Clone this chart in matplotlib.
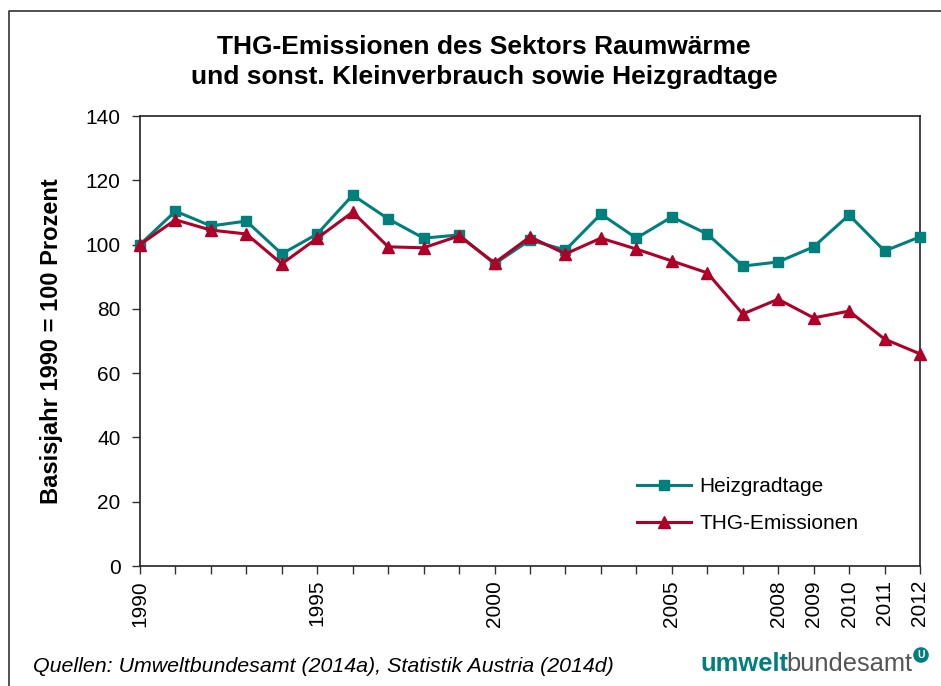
import numpy as np
import matplotlib.pyplot as plt
from matplotlib.lines import Line2D

plt.rcParams['font.family'] = ['Liberation Sans', 'DejaVu Sans']

# Daten (Basisjahr 1990 = 100)
jahre = list(range(1990, 2013))
heizgradtage = [100, 110.4, 105.8, 107.3, 97.1, 103.3, 115.4, 108.0, 102.0, 103.0,
                94.0, 101.4, 98.3, 109.5, 102.0, 108.6, 103.3, 93.3, 94.6, 99.3,
                109.2, 98.0, 102.4]
thg_emissionen = [100, 107.7, 104.5, 103.3, 94.0, 102.0, 110.1, 99.3, 99.0, 102.7,
                  94.3, 102.4, 97.1, 102.0, 98.6, 94.9, 91.2, 78.4, 83.0, 77.2,
                  79.3, 70.6, 66.0]
beschriftete_jahre = [1990, 1995, 2000, 2005, 2008, 2009, 2010, 2011, 2012]

teal = '#00807c'
rot = '#b00028'

fig = plt.figure(figsize=(9.41, 6.86), dpi=100)
ax = fig.add_axes([140/941, 120/686, 780/941, 450/686])

ax.plot(jahre, heizgradtage, color=teal, linewidth=2.2, marker='s', markersize=7,
        label='Heizgradtage', clip_on=False, zorder=3)
ax.plot(jahre, thg_emissionen, color=rot, linewidth=2.2, marker='^', markersize=8,
        label='THG-Emissionen', clip_on=False, zorder=4)

ax.set_xlim(1990, 2012)
ax.set_ylim(0, 140)
ax.set_yticks(np.arange(0, 141, 20))
ax.set_xticks(jahre)
ax.set_xticklabels([str(j) if j in beschriftete_jahre else '' for j in jahre],
                   rotation=90)
ax.tick_params(axis='both', direction='out', length=6, width=1, labelsize=15,
               color='#333333')
ax.tick_params(axis='y', pad=8)
ax.tick_params(axis='x', pad=4)
for s in ax.spines.values():
    s.set_color('#222222')
    s.set_linewidth(1.2)

ax.set_ylabel('Basisjahr 1990 = 100 Prozent', fontsize=17, fontweight='bold',
              labelpad=16)

ax.legend(loc='lower right', bbox_to_anchor=(0.945, 0.032), frameon=False,
          fontsize=15, handlelength=2.6, handletextpad=0.4, labelspacing=0.85)

fig.text(484/941, 1 - 62/686, 'THG-Emissionen des Sektors Raumwärme\nund sonst. Kleinverbrauch sowie Heizgradtage',
         ha='center', va='center', fontsize=19, fontweight='bold', linespacing=1.3)

fig.text(33/941, 1 - 666/686, 'Quellen: Umweltbundesamt (2014a), Statistik Austria (2014d)',
         ha='left', va='center', fontsize=15.4, style='italic')

# Logo
fig.text(700/941, 1 - 664/686, 'umwelt', ha='left', va='center', fontsize=18.4,
         fontweight='bold', color=teal)
fig.text(786/941, 1 - 664/686, 'bundesamt', ha='left', va='center', fontsize=18.4,
         color='#555555')
fig.text(921/941, 1 - 655/686, 'U', ha='center', va='center', fontsize=7.5,
         fontweight='bold', color='white',
         bbox=dict(boxstyle='circle,pad=0.2', fc=teal, ec=teal))

# Rahmen
fig.add_artist(Line2D([9/941, 9/941, 1.01], [-0.01, 1 - 11/686, 1 - 11/686],
                      transform=fig.transFigure, color='#333333', linewidth=1.2))

fig.savefig('out.png', dpi=100)
